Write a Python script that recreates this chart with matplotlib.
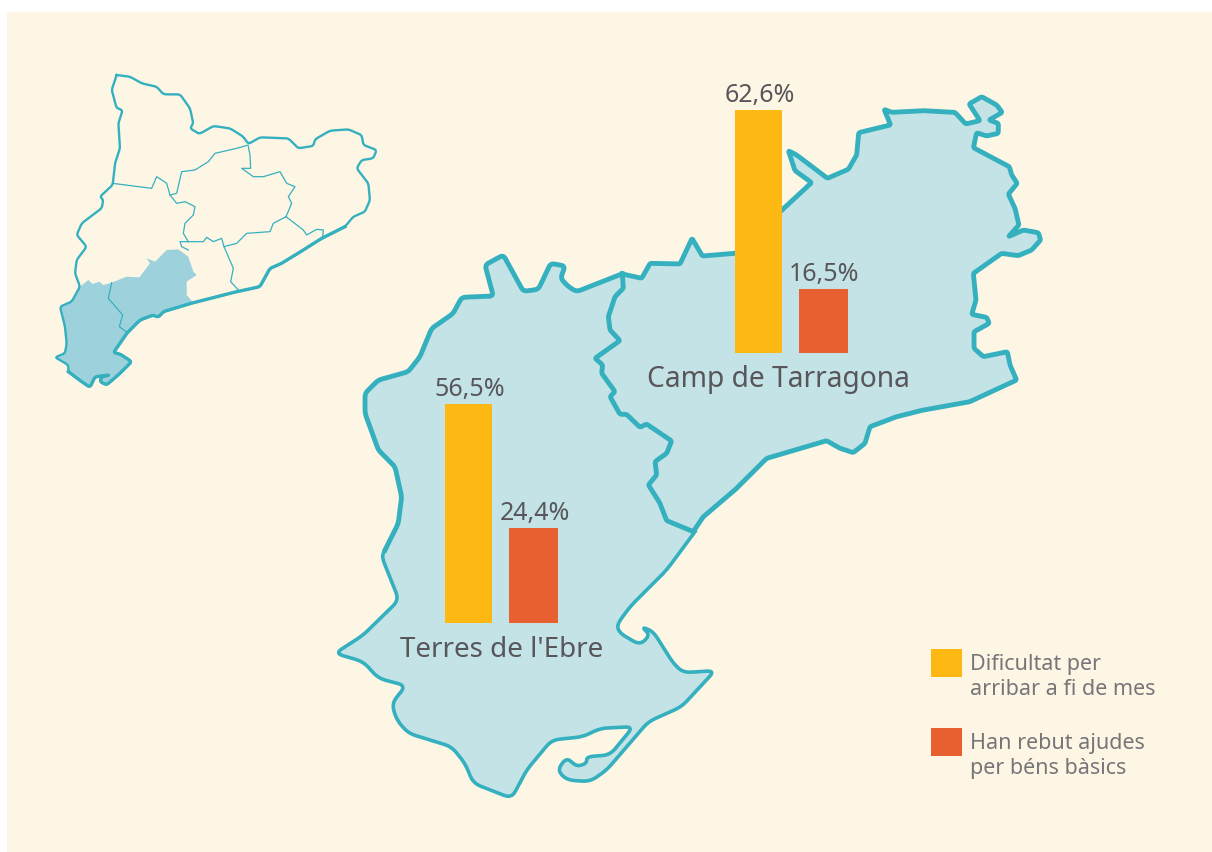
import numpy as np
import matplotlib
matplotlib.use('Agg')
import matplotlib.pyplot as plt
from matplotlib.patches import Polygon, Rectangle

# chart values
regions = ['Camp de Tarragona', "Terres de l'Ebre"]
dificultat = [62.6, 56.5]
ajudes = [16.5, 24.4]
legend_labels = ['Dificultat per\narribar a fi de mes', 'Han rebut ajudes\nper béns bàsics']

OUTLINE = '#35b0bf'
FILL = '#c4e3e6'
YELLOW = '#fdb813'
RED = '#e86030'
TEXT = '#58565a'

# map shapes, traced in the zoomed crops (3x), converted with from_crop
camp_crop = [(97,582),(155,595),(180,550),(270,552),(306,475),(337,528),(436,520),(576,390),(665,308),
    (615,272),(595,212),(620,225),(712,295),(775,268),(800,225),(806,158),(902,135),(882,88),(905,97),
    (1000,92),(1095,97),(1127,132),(1170,122),(1137,72),(1175,50),(1220,75),(1237,97),(1197,120),(1225,130),
    (1225,160),(1190,168),(1160,158),(1150,203),(1258,260),(1265,285),(1282,310),(1255,342),(1275,385),
    (1287,435),(1255,470),(1300,450),(1345,458),(1352,480),(1325,510),(1285,527),(1235,520),(1150,580),
    (1158,660),(1145,703),(1190,712),(1198,730),(1152,755),(1152,805),(1180,830),(1252,815),(1260,855),
    (1280,900),(1140,965),(1000,990),(920,1010),(840,1040),(825,1090),(790,1118),(750,1105),(710,1082),
    (530,1135),(440,1225),(340,1310),(310,1355),(230,1322),(210,1270),(175,1215),(200,1185),(195,1145),
    (230,1120),(245,1083),(170,1032),(150,1042),(110,1003),(90,1003),(60,950),(75,935),(35,880),(38,855),
    (15,835),(90,782),(60,750),(55,710),(75,650),(100,625),(97,582)]
terres_north_crop = [(905,72),(770,125),(745,110),(722,85),(735,48),(692,40),(655,118),(610,124),(550,15),
    (495,45),(520,138),(425,142),(400,190),(335,235),(300,320),(265,365),(175,390),(135,430),(135,490),
    (175,600),(225,650),(245,740),(235,820),(195,900)]
terres_south_crop = [(195,90),(185,110),(237,240),(130,345),(45,400),(130,425),(175,475),(258,497),(215,550),
    (230,600),(265,640),(395,680),(435,730),(460,790),(575,835),(620,750),(695,660),(790,650),(840,625),
    (940,620),(870,705),(800,710),(800,730),(770,740),(740,712),(712,750),(740,780),(810,785),(860,750),
    (985,605),(1085,560),(1185,452),(1090,458),(1060,430),(1000,335),(965,320),(990,345),(960,375),
    (900,340),(890,315),(930,260),(1040,150),(1125,35)]

cat_crop = [(230,45),(270,50),(305,70),(350,80),(370,103),(420,103),(450,145),(460,190),(450,205),(478,222),
    (520,198),(570,205),(610,230),(625,252),(660,232),(745,235),(775,265),(820,258),(825,238),(870,212),
    (925,208),(965,225),(970,255),(1010,270),(1000,295),(965,300),(950,325),(985,370),(990,420),(975,455),
    (940,470),(915,500),(845,535),(790,570),(725,610),(690,625),(660,680),(590,695),(460,728),(370,755),
    (355,772),(340,765),(300,780),(262,818),(220,878),(240,882),(275,905),(240,940),(200,975),(180,965),
    (185,950),(210,945),(165,950),(150,982),(125,965),(85,935),(85,915),(45,892),(75,880),(80,850),(75,800),
    (60,740),(95,725),(120,680),(105,640),(110,600),(140,560),(110,525),(125,490),(185,445),(190,420),
    (180,410),(218,375),(225,310),(240,265),(235,190),(248,150),(230,145),(215,90),(230,45)]
coast_crop = [(915,500),(845,535),(790,570),(725,610),(690,625),(660,680),(590,695),(460,728),(370,755),
    (355,772),(340,765),(300,780),(262,818),(220,878),(240,882),(275,905),(240,940),(200,975),(180,965),
    (185,950),(210,945),(165,950),(150,982),(125,965),(85,935)]
south_crop = [(120,680),(145,660),(158,672),(178,665),(190,675),(215,668),(260,650),(298,652),(330,610),
    (320,595),(345,605),(380,570),(415,568),(445,590),(460,635),(470,645),(440,665),(440,705),(460,728),
    (370,755),(355,772),(340,765),(300,780),(262,818),(220,878),(240,882),(275,905),(240,940),(200,975),
    (180,965),(185,950),(210,945),(165,950),(150,982),(125,965),(85,935),(85,915),(45,892),(75,880),
    (80,850),(75,800),(60,740),(95,725)]
inner_crops = [
    [(218,370),(280,378),(335,385),(350,350),(380,370),(390,405),(410,430),(435,425),(465,440),(460,465),
     (435,490),(430,520),(445,545),(490,545),(500,532),(520,545),(545,535),(552,560),(580,625),(572,665),(595,690)],
    [(445,545),(420,545),(425,560),(445,570)],
    [(390,405),(410,400),(425,335),(465,330),(505,305),(525,280),(590,265),(625,255)],
    [(625,260),(630,285),(632,325),(605,325),(640,350),(670,350),(720,335),(740,370),(765,380),(745,410),
     (755,430),(738,470),(700,490),(690,515),(620,520),(590,550),(552,560)],
    [(738,470),(790,510),(800,525),(830,508),(850,510),(848,535)],
    [(215,668),(205,715),(248,765),(238,800),(262,818)],
]


def from_crop(points, x0, y0):
    return np.array(points, dtype=float) / 3 + [x0, y0]


def round_corners(points, radius):
    # rounds each corner with a short quadratic curve, end points stay
    out = [points[0]]
    t = np.linspace(0, 1, 6)[:, None]
    for a, p, b in zip(points[:-2], points[1:-1], points[2:]):
        da, db = a - p, b - p
        la, lb = np.hypot(*da), np.hypot(*db)
        s = p + da / la * min(radius, la * 0.45)
        e = p + db / lb * min(radius, lb * 0.45)
        out.extend((1 - t) ** 2 * s + 2 * t * (1 - t) * p + t ** 2 * e)
    out.append(points[-1])
    return np.array(out)


camp = round_corners(from_crop(camp_crop, 590, 80), 2)
terres_n = round_corners(from_crop(terres_north_crop, 320, 250), 4)
terres_s = round_corners(from_crop(terres_south_crop, 320, 520), 8)
terres = np.vstack([terres_n, terres_s])
cat = round_corners(from_crop(cat_crop, 40, 60), 3)
coast = round_corners(from_crop(coast_crop, 40, 60), 3)
south = from_crop(south_crop, 40, 60)

fig = plt.figure(figsize=(12.12, 8.52), dpi=100, facecolor='white')
ax = fig.add_axes([0, 0, 1, 1])
ax.set_xlim(0, 1212)
ax.set_ylim(852, 0)
ax.axis('off')
plt.rcParams['font.family'] = ['Noto Sans', 'DejaVu Sans']

ax.add_patch(Rectangle((7, 12), 1205, 840, fc='#fdf6e5', ec='none', zorder=0))

# small map of Catalonia
ax.add_patch(Polygon(south, closed=True, fc='#9dd2dc', ec='none', zorder=1))
ax.plot(cat[:, 0], cat[:, 1], color=OUTLINE, lw=1.7, solid_joinstyle='round', zorder=2)
ax.plot(coast[:, 0], coast[:, 1], color=OUTLINE, lw=2.4, solid_joinstyle='round', zorder=2)
for crop in inner_crops:
    line = from_crop(crop, 40, 60)
    ax.plot(line[:, 0], line[:, 1], color=OUTLINE, lw=0.9, zorder=2)

# big map
ax.add_patch(Polygon(terres, closed=True, fc=FILL, ec='none', zorder=1))
ax.add_patch(Polygon(camp, closed=True, fc=FILL, ec='none', zorder=1))
ax.plot(terres_n[:, 0], terres_n[:, 1], color=OUTLINE, lw=3.5, solid_joinstyle='round', zorder=2)
ax.plot(terres_s[:, 0], terres_s[:, 1], color=OUTLINE, lw=2.6, solid_joinstyle='round', zorder=2)
ax.plot(camp[:, 0], camp[:, 1], color=OUTLINE, lw=3.5, solid_joinstyle='round', zorder=2)

# bars
px_per_pct = 3.88
baselines = [353, 623]
left_x = [(735, 47), (445, 47)]
right_x = [(799, 49), (509, 49)]
label_pos = [(778, 379), (502, 650)]
label_size = [20.3, 20]

for i, region in enumerate(regions):
    base = baselines[i]
    for (x, w), val, col in zip((left_x[i], right_x[i]), (dificultat[i], ajudes[i]), (YELLOW, RED)):
        ax.bar(x, -val * px_per_pct, width=w, bottom=base, align='edge', color=col, zorder=3)
        ax.text(x + w / 2 + 1, base - val * px_per_pct - 2, ('%.1f%%' % val).replace('.', ','),
                ha='center', va='bottom', fontsize=18, color=TEXT, zorder=4)
    ax.text(label_pos[i][0], label_pos[i][1], region, ha='center', va='center',
            fontsize=label_size[i], color=TEXT, zorder=4)

# legend
for y, col, lab in zip((649, 728), (YELLOW, RED), legend_labels):
    ax.add_patch(Rectangle((931, y), 31, 28, fc=col, ec='none', zorder=3))
    ax.text(970, y + 5, lab, ha='left', va='top', fontsize=15.5, color='#777578',
            linespacing=1.27, zorder=4)

fig.savefig('out.png', dpi=100, facecolor='white')
